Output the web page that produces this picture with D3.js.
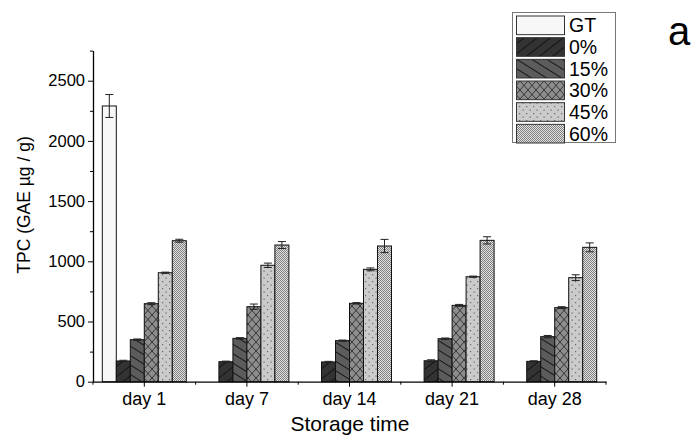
<!DOCTYPE html>
<html>
<head>
<meta charset="utf-8">
<script src="https://d3js.org/d3.v7.min.js"></script>
<style>
body { margin: 0; background: #fff; }
svg { display: block; font-family: "Liberation Sans", Arial, sans-serif; }
</style>
</head>
<body>
<svg id="chart" width="694" height="436"></svg>
<script>
// categories + series
const days = ["day 1", "day 7", "day 14", "day 21", "day 28"];
const series = ["GT", "0%", "15%", "30%", "45%", "60%"];

const valGT = [2290, null, null, null, null];
const val0 = [172, 166, 164, 174, 169];
const val15 = [349, 360, 341, 357, 374];
const val30 = [648, 623, 651, 634, 615];
const val45 = [905, 967, 933, 872, 864];
const val60 = [1171, 1135, 1127, 1174, 1116];

// error bars (+/-)
const errGT = [95, null, null, null, null];
const err0 = [6, 5, 5, 8, 5];
const err15 = [6, 6, 5, 6, 10];
const err30 = [8, 22, 6, 8, 8];
const err45 = [5, 18, 12, 5, 24];
const err60 = [12, 29, 55, 30, 37];

const yMajor = [0, 500, 1000, 1500, 2000, 2500];
const yMinor = [250, 750, 1250, 1750, 2250, 2750];

const allVals = [valGT, val0, val15, val30, val45, val60];
const allErr = [errGT, err0, err15, err30, err45, err60];

// flatten for binding
const rows = [];
days.forEach((d, i) => {
    series.forEach((s, j) => {
        if (allVals[j][i] != null) rows.push({day: d, s: s, v: allVals[j][i], e: allErr[j][i]});
    });
});

const svg = d3.select("#chart");

const x0 = d3.scaleBand().domain(days).range([93, 606]);
const x1 = d3.scaleBand().domain(series).range([0, x0.bandwidth()]).paddingOuter(0.665);
const y = d3.scaleLinear().domain([0, 2750]).range([381.7, 50.6]);

// patterns for the fills
const defs = svg.append("defs");

function linePattern(id, bg, angle, gap) {
    const p = defs.append("pattern").attr("id", id)
        .attr("patternUnits", "userSpaceOnUse")
        .attr("width", gap).attr("height", gap)
        .attr("patternTransform", "rotate(" + angle + ")");
    p.append("rect").attr("width", gap).attr("height", gap).attr("fill", bg);
    p.append("line").attr("x1", 0).attr("x2", gap).attr("y1", 0.5).attr("y2", 0.5)
        .attr("stroke", "#111").attr("stroke-width", 0.9);
}
linePattern("p0", "#333", -38, 8);
linePattern("p15", "#5c5c5c", 32, 8);

// crosshatch diamonds
const pc = defs.append("pattern").attr("id", "p30")
    .attr("patternUnits", "userSpaceOnUse").attr("width", 8).attr("height", 9);
pc.append("rect").attr("width", 8).attr("height", 9).attr("fill", "#8e8e8e");
pc.append("path").attr("d", "M0,0L8,9M8,0L0,9").attr("stroke", "#2a2a2a").attr("stroke-width", 0.9);

// sparse dots
const pd = defs.append("pattern").attr("id", "p45")
    .attr("patternUnits", "userSpaceOnUse").attr("width", 7).attr("height", 7);
pd.append("rect").attr("width", 7).attr("height", 7).attr("fill", "#cbcbcb");
pd.append("rect").attr("x", 1).attr("y", 1).attr("width", 1.2).attr("height", 1.2).attr("fill", "#666");
pd.append("rect").attr("x", 4.5).attr("y", 4.5).attr("width", 1.2).attr("height", 1.2).attr("fill", "#666");

// dense checker
const pk = defs.append("pattern").attr("id", "p60")
    .attr("patternUnits", "userSpaceOnUse").attr("width", 2).attr("height", 2);
pk.append("rect").attr("width", 2).attr("height", 2).attr("fill", "#e2e2e2");
pk.append("rect").attr("width", 1).attr("height", 1).attr("fill", "#808080");
pk.append("rect").attr("x", 1).attr("y", 1).attr("width", 1).attr("height", 1).attr("fill", "#808080");

const fills = {"GT": "#f7f7f7", "0%": "url(#p0)", "15%": "url(#p15)", "30%": "url(#p30)", "45%": "url(#p45)", "60%": "url(#p60)"};

// bars
svg.append("g").selectAll("rect")
    .data(rows)
    .join("rect")
    .attr("x", d => x0(d.day) + x1(d.s))
    .attr("y", d => y(d.v))
    .attr("width", x1.bandwidth())
    .attr("height", d => y(0) - y(d.v))
    .attr("fill", d => fills[d.s])
    .attr("stroke", "#111")
    .attr("stroke-width", 1);

// error bars
const eb = svg.append("g").attr("stroke", "#222").attr("stroke-width", 1);
rows.forEach(d => {
    const cx = x0(d.day) + x1(d.s) + x1.bandwidth() / 2;
    eb.append("line").attr("x1", cx).attr("x2", cx).attr("y1", y(d.v + d.e)).attr("y2", y(d.v - d.e));
    eb.append("line").attr("x1", cx - 4).attr("x2", cx + 4).attr("y1", y(d.v + d.e)).attr("y2", y(d.v + d.e));
    eb.append("line").attr("x1", cx - 4).attr("x2", cx + 4).attr("y1", y(d.v - d.e)).attr("y2", y(d.v - d.e));
});

// y axis
const yAxis = svg.append("g").attr("transform", "translate(93,0)")
    .call(d3.axisLeft(y).tickValues(yMajor).tickSize(5).tickSizeOuter(0).tickFormat(d3.format("d")));
svg.append("g").attr("transform", "translate(93,0)")
    .call(d3.axisLeft(y).tickValues(yMinor).tickSize(3).tickFormat("").tickSizeOuter(0))
    .select(".domain").remove();
yAxis.selectAll("text").attr("font-size", 16.5).attr("fill", "#000")
    .attr("font-family", "Liberation Sans, Arial, sans-serif");

// x axis
const xAxis = svg.append("g").attr("transform", "translate(0,381.7)")
    .call(d3.axisBottom(x0).tickSize(5).tickSizeOuter(0).tickPadding(6));
xAxis.selectAll("text").attr("font-size", 18).attr("fill", "#000")
    .attr("font-family", "Liberation Sans, Arial, sans-serif");
// minor ticks on band edges
const edges = days.map(d => x0(d)).concat([x0.range()[1]]);
svg.append("g").selectAll("line").data(edges).join("line")
    .attr("x1", d => d).attr("x2", d => d)
    .attr("y1", 381.7).attr("y2", 384.7)
    .attr("stroke", "#000");

svg.selectAll(".domain").attr("stroke", "#000").attr("stroke-width", 1.3);
svg.selectAll(".tick line").attr("stroke", "#000");

// axis titles
svg.append("text").attr("x", 350).attr("y", 431).attr("text-anchor", "middle")
    .attr("font-size", 21).text("Storage time");
svg.append("text").attr("transform", "translate(30,205) rotate(-90)")
    .attr("text-anchor", "middle").attr("font-size", 17.5).text("TPC (GAE µg / g)");

// legend
const lg = svg.append("g");
lg.append("rect").attr("x", 512.5).attr("y", 12.5).attr("width", 103).attr("height", 130)
    .attr("fill", "#fff").attr("stroke", "#777");
const ly = d3.scaleBand().domain(series).range([15, 142]).paddingInner(0.14);
series.forEach(s => {
    lg.append("rect").attr("x", 516.5).attr("y", ly(s) + 1).attr("width", 48).attr("height", ly.bandwidth())
        .attr("fill", fills[s]).attr("stroke", "#333");
    lg.append("text").attr("x", 569).attr("y", ly(s) + ly.bandwidth() / 2 + 8)
        .attr("font-size", 19.5).text(s);
});

// panel letter
svg.append("text").attr("x", 668).attr("y", 45).attr("font-size", 40).text("a");
</script>
</body>
</html>
